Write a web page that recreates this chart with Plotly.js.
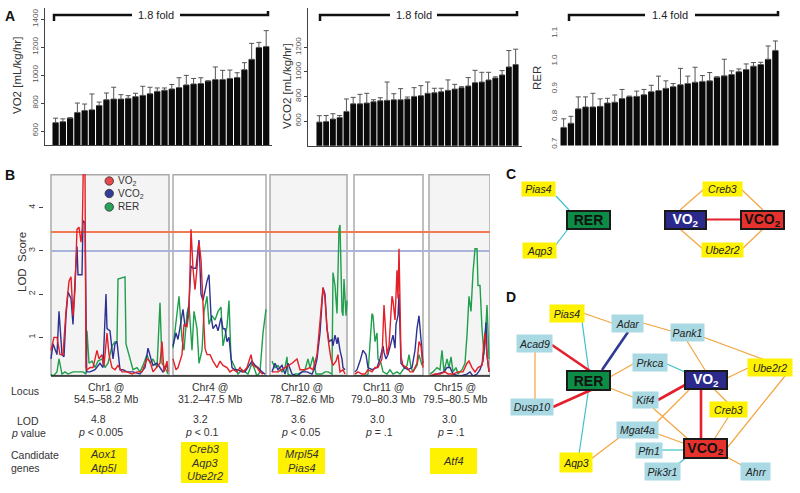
<!DOCTYPE html>
<html><head><meta charset="utf-8">
<script src="https://cdn.plot.ly/plotly-3.0.1.min.js"></script>
<style>html,body{margin:0;padding:0;background:#fff}#chart{width:800px;height:493px}</style>
</head><body><div id="chart"></div>
<script>
// ---------------- DATA ----------------
// Panel A: per-strain means (sorted) and mean+SD tops
const vo2Vals  = [660,667,692,733,747,752,783,824,829,829,834,846,855,867,884,892,901,911,930,937,940,957,969,969,976,983,1039,1113,1198,1205];
const vo2Upper = [692,687,696,800,793,865,807,872,913,860,853,870,920,913,908,908,933,981,998,976,981,960,1058,1034,1036,1017,1089,1227,1234,1318];
const vco2Vals  = [592,597,617,630,679,741,741,747,758,766,769,774,774,780,801,807,826,831,839,850,861,872,886,913,918,935,951,976,1041,1060];
const vco2Upper = [644,646,660,646,780,793,818,826,774,790,918,823,864,796,872,888,918,867,867,935,899,880,954,1013,997,997,960,1011,1174,1185];
const rerVals  = [0.761,0.776,0.828,0.835,0.835,0.837,0.849,0.852,0.865,0.872,0.873,0.879,0.890,0.894,0.902,0.908,0.915,0.919,0.924,0.927,0.929,0.942,0.947,0.952,0.962,0.970,0.982,0.988,1.007,1.039];
const rerUpper = [0.792,0.801,0.871,0.871,0.884,0.864,0.866,0.878,0.898,0.874,0.892,0.898,0.913,0.946,0.929,0.919,0.974,0.946,0.978,0.948,0.959,0.944,1.007,0.965,0.972,0.990,0.995,0.996,1.055,1.073];
const foldLabels = ['1.8 fold','1.8 fold','1.4 fold'];

// Panel B: LOD profiles (genome position in plot units, LOD)
const chr1VO2pos = [0,3,6,9,12,15,18,20,22,24,26,28,30,31.3,32.3,34,35,36,39,42,46,48,51,53,56,58,61,64,67,71,76,81,86,91,96,99,102,106,109,111,113,116,117];
const chr1VO2lod = [0.7,1.0,1.0,0.6,0.6,1.6,2.3,2.4,1.5,2.1,3.5,3.55,3.2,3.55,4.9,4.9,0.3,0.25,0.3,0.3,0.7,0.5,0.6,0.35,1.1,0.6,0.3,0.25,0.35,0.2,0.2,0.15,0.2,0.2,0.5,0.45,0.2,0.3,0.4,0.9,0.2,0.45,0.2];
const chr1VCO2pos = [0,2,6,8,11,13,15,17,20,22,24,26,27,31,32,34,35.7,39,44,49,52,55,56,59,62,64,66,69,72,76,82,89,94,97,100,102,106,109,112,116];
const chr1VCO2lod = [0.5,0.85,0.6,1.6,0.6,0.55,1.5,2.05,1.9,1.3,2.3,3.1,2.45,2.45,3.7,3.65,0.2,0.2,0.25,0.4,0.3,2.0,1.2,1.15,0.5,0.85,0.9,0.25,0.25,0.2,0.2,0.15,0.3,0.75,0.5,0.35,0.4,0.3,0.2,0.35];
const chr1RERpos = [0,2,6,8,11,14,17,22,27,32,35,36,38,41,44,47,51,54,57,61,64,66,67,74,75,79,82,86,89,92,96,99,102,106,109,111,114,117];
const chr1RERlod = [0.15,0.1,0.2,0.5,0.15,0.2,0.15,0.2,0.2,0.2,0.15,1.15,0.4,0.45,0.3,0.45,0.5,0.3,0.4,0.8,0.9,0.9,2.35,2.4,0.85,0.5,0.25,0.3,0.2,0.35,0.6,0.4,0.5,0.3,1.8,0.4,0.3,0.15];

const chr4VO2pos = [122,125,127,131,133,136,138,140,142,144,146,148,150,152,154,156,159,162,166,169,172,176,179,182,186,189,192,196,200,202,206,209,212];
const chr4VO2lod = [0.5,0.25,0.3,0.6,1.3,1.25,1.6,3.5,2.6,2.1,2.6,3.2,2.8,1.9,0.75,0.6,0.6,0.45,0.3,0.45,0.35,0.3,0.2,0.25,0.2,0.3,0.2,0.3,0.6,0.35,0.3,0.2,0.15];
const chr4VCO2pos = [122,125,127,130,132,134,136,138,140,142,145,148,150,152,154,156,158,160,162,165,167,170,172,174,176,178,181,184,187,191,194,197,201,204,207,211,214];
const chr4VCO2lod = [0.8,1.1,0.95,1.35,1.65,1.25,1.3,1.8,2.65,2.6,2.6,3.25,2.0,1.85,2.1,2.3,2.45,1.5,1.2,1.3,1.15,1.45,1.2,1.2,0.9,1.0,0.3,0.25,0.25,0.2,0.2,0.3,0.45,0.35,0.3,0.2,0.15];
const chr4RERpos = [122,124,126,128,131,133,136,138,141,143,146,148,151,153,156,158,161,164,167,170,172,176,178,180,184,187,191,194,197,201,203,206,209,212,215];
const chr4RERlod = [0.75,1.2,1.5,1.95,0.95,0.7,1.55,1.75,0.7,1.6,1.2,0.4,0.7,1.6,1.95,1.3,1.5,1.4,1.6,1.7,0.8,1.25,1.85,0.5,0.3,0.15,0.25,0.2,0.15,0.4,0.3,0.1,0.2,1.1,1.65];

const chr10VO2pos = [221,227,234,241,246,249,254,259,262,266,268,271,272,274,276,278,280,282,285,287,289,292,294];
const chr10VO2lod = [0.2,0.2,0.3,0.4,0.5,0.25,0.25,0.3,0.25,0.6,1.1,1.8,2.15,1.9,1.2,0.8,0.5,0.35,0.45,0.6,0.2,0.25,0.15];
const chr10VCO2pos = [221,224,227,231,234,237,241,246,251,256,261,264,266,269,271,272,274,276,278,281,282,284,286,287,289,291,292,294];
const chr10VCO2lod = [0.2,0.4,0.25,0.35,0.15,0.4,0.15,0.1,0.2,0.2,0.15,0.3,0.5,1.1,1.8,2.15,2.0,1.2,0.9,0.95,0.8,1.05,0.85,1.0,0.7,0.5,0.3,0.25];
const chr10RERpos = [221,224,227,231,234,236,237,241,244,247,251,254,257,259,262,265,267,271,274,277,281,282,284,286,288,289,291,292,293,295,296];
const chr10RERlod = [0.45,0.3,0.35,0.2,0.3,0.55,0.15,0.1,0.15,0.15,0.2,0.25,0.5,0.3,0.55,0.15,0.15,0.15,0.2,0.2,0.15,2.5,2.2,1.55,3.5,3.6,1.6,1.5,2.35,1.5,1.85];

const chr11VO2pos = [304,307,311,314,317,321,324,327,331,333,336,338,341,342,344,346,347,348,350,352,356,359,362,366,368,370,372];
const chr11VO2lod = [0.15,0.2,0.15,0.15,0.25,0.2,0.3,0.3,0.5,1.75,0.6,0.8,1.95,1.85,1.4,2.55,1.9,3.05,0.55,0.35,0.3,0.2,0.2,0.4,0.9,0.8,0.3];
const chr11VCO2pos = [304,306,309,312,315,317,321,326,329,332,333,335,337,340,342,344,345,347,348,350,353,357,361,364,366,368,370,372];
const chr11VCO2lod = [0.2,0.25,0.45,0.7,0.6,0.3,0.25,0.3,0.5,0.8,0.65,0.5,0.6,0.9,1.05,0.75,1.3,1.5,2.0,0.4,0.3,0.25,0.3,0.7,1.2,1.5,1.0,0.4];
const chr11RERpos = [304,309,314,317,321,322,324,326,327,330,332,336,339,342,346,349,352,356,358,360,362,366,368,371];
const chr11RERlod = [0.1,0.1,0.1,0.15,1.55,1.5,0.9,1.1,0.5,0.4,0.2,0.15,0.25,0.15,0.2,0.15,0.25,0.35,0.6,0.3,0.2,0.35,0.6,0.35];

const chr15VO2pos = [379,384,389,394,397,402,407,412,416,418,421,424,427,431,433,434,436,438];
const chr15VO2lod = [0.1,0.15,0.15,0.2,0.15,0.15,0.2,0.2,0.4,0.45,0.3,0.2,0.3,0.35,0.9,1.1,0.6,0.2];
const chr15VCO2pos = [379,386,393,396,399,402,409,416,419,422,426,429,432,435,436,438];
const chr15VCO2lod = [0.1,0.15,0.2,0.3,0.3,0.15,0.1,0.15,0.2,0.1,0.15,0.25,0.45,1.35,0.6,0.2];
const chr15RERpos = [379,382,386,389,391,393,396,398,400,402,405,407,411,414,416,418,420,422,424,426,427,429,431,433,435,436,438];
const chr15RERlod = [0.15,0.2,0.3,0.25,0.7,0.2,0.5,0.3,0.55,0.2,0.3,0.15,0.25,0.4,1.05,1.95,1.6,2.5,3.05,3.05,2.2,2.2,1.2,0.6,1.3,1.75,0.5];

const chrNames   = ['Chr1','Chr4','Chr10','Chr11','Chr15'];
const chrSpans   = [[0,118],[122,215],[219,296],[303,372],[378,439]];
const lodThresholds = [3.44, 3.0];
const locusRanges = ['54.5–58.2 Mb','31.2–47.5 Mb','78.7–82.6 Mb','79.0–80.3 Mb','79.5–80.5 Mb'];
const peakLOD    = ['4.8','3.2','3.6','3.0','3.0'];
const pValues    = ['<i>p</i> < 0.005','<i>p</i> < 0.1','<i>p</i> < 0.05','<i>p</i> = .1','<i>p</i> = .1'];
const candidates = [['Aox1','Atp5l'],['Creb3','Aqp3','Ube2r2'],['Mrpl54','Pias4'],[],['Atf4']];

// Panels C & D: networks
const netCEdges = [['Pias4','RER','cyan'],['Aqp3','RER','cyan'],['VO2','VCO2','red'],['VO2','Creb3','orange'],['Creb3','VCO2','orange'],['VO2','Ube2r2','orange'],['Ube2r2','VCO2','orange']];
const netDEdges = [['Pias4','Adar','orange'],['Adar','Pank1','orange'],['Pank1','Ube2r2','orange'],['Pank1','VO2','orange'],['Pias4','RER','cyan'],['RER','Aqp3','cyan'],['Adar','RER','navy'],['Acad9','RER','red'],['Dusp10','RER','red'],['Acad9','Dusp10','orange'],['RER','Prkca','orange'],['RER','Kif4','orange'],['Prkca','VO2','cyan'],['Kif4','VO2','red'],['VO2','VCO2','red'],['VO2','Ube2r2','orange'],['VO2','Creb3','orange'],['Creb3','VCO2','orange'],['Ube2r2','VCO2','orange'],['VO2','Mgat4a','orange'],['Kif4','VCO2','orange'],['Mgat4a','VCO2','orange'],['Mgat4a','Aqp3','orange'],['Pfn1','VCO2','cyan'],['Pik3r1','VCO2','cyan'],['Ahrr','VCO2','orange']];
const candidateGenes = ['Pias4','Aqp3','Creb3','Ube2r2'];

// ---------------- LAYOUT HELPERS ----------------
const W=800,H=493;
const X=p=>p/W, Y=p=>1-p/H;
const FONT='Liberation Sans, Arial, Helvetica, sans-serif';
const shapes=[], annotations=[];
function ann(x,y,text,o={}){annotations.push(Object.assign({xref:'paper',yref:'paper',x:X(x),y:Y(y),text,showarrow:false,xanchor:'center',yanchor:'middle',font:{family:FONT,size:10.5,color:'#333'}},o));}
function seg(x0,y0,x1,y1,color,width){shapes.push({type:'line',xref:'paper',yref:'paper',x0:X(x0),y0:Y(y0),x1:X(x1),y1:Y(y1),line:{color,width},layer:'above'});}

// ---------------- PANEL A ----------------
const traces=[];
function barTrace(vals,upper,ax){
  return {type:'bar',x:vals.map((_,i)=>i+1),y:vals,xaxis:'x'+ax,yaxis:'y'+ax,
    marker:{color:'#0a0a0a',line:{width:0}},
    error_y:{type:'data',symmetric:false,array:upper.map((u,i)=>Math.max(0,u-vals[i])),arrayminus:vals.map(()=>0),color:'#555',thickness:1,width:2.5},
    hoverinfo:'skip',showlegend:false};
}
traces.push(barTrace(vo2Vals,vo2Upper,''));
traces.push(barTrace(vco2Vals,vco2Upper,'2'));
traces.push(barTrace(rerVals,rerUpper,'3'));

function bracket(x1,x2,gl,gr,label){
  const y=15;
  shapes.push({type:'path',xref:'paper',yref:'paper',path:`M ${X(x1)},${Y(y+6)} L ${X(x1)},${Y(y)} L ${X(gl)},${Y(y)}`,line:{color:'#111',width:2.5},layer:'above'});
  shapes.push({type:'path',xref:'paper',yref:'paper',path:`M ${X(gr)},${Y(y)} L ${X(x2)},${Y(y)} L ${X(x2)},${Y(y-4)}`,line:{color:'#111',width:2.5},layer:'above'});
  ann((gl+gr)/2,y,label,{font:{family:FONT,size:11,color:'#222'}});
}
bracket(54,268,132,180,foldLabels[0]);
bracket(320,517,390,437,foldLabels[1]);
bracket(569,778,645,695,foldLabels[2]);

ann(17,76,'VO2 [mL/kg/hr]',{textangle:-90,font:{family:FONT,size:11.5,color:'#333'}});
ann(287,86,'VCO2 [mL/kg/hr]',{textangle:-90,font:{family:FONT,size:11.5,color:'#333'}});
ann(537,78,'RER',{textangle:-90,font:{family:FONT,size:11.5,color:'#333'}});

// ---------------- PANEL B ----------------
function joinChr(list){const xs=[],ys=[];list.forEach(([p,l],i)=>{if(i){xs.push(null);ys.push(null);}xs.push(...p);ys.push(...l);});return [xs,ys];}
const rerAll = joinChr([[chr1RERpos,chr1RERlod],[chr4RERpos,chr4RERlod],[chr10RERpos,chr10RERlod],[chr11RERpos,chr11RERlod],[chr15RERpos,chr15RERlod]]);
const vco2All = joinChr([[chr1VCO2pos,chr1VCO2lod],[chr4VCO2pos,chr4VCO2lod],[chr10VCO2pos,chr10VCO2lod],[chr11VCO2pos,chr11VCO2lod],[chr15VCO2pos,chr15VCO2lod]]);
const vo2All = joinChr([[chr1VO2pos,chr1VO2lod],[chr4VO2pos,chr4VO2lod],[chr10VO2pos,chr10VO2lod],[chr11VO2pos,chr11VO2lod],[chr15VO2pos,chr15VO2lod]]);
const cRER='#1f9e4c', cVCO2='#2e3192', cVO2='#e41f26';
traces.push({type:'scatter',mode:'lines',x:rerAll[0],y:rerAll[1],xaxis:'x4',yaxis:'y4',line:{color:cRER,width:1.4},hoverinfo:'skip',showlegend:false});
traces.push({type:'scatter',mode:'lines',x:vco2All[0],y:vco2All[1],xaxis:'x4',yaxis:'y4',line:{color:cVCO2,width:1.4},hoverinfo:'skip',showlegend:false});
traces.push({type:'scatter',mode:'lines',x:vo2All[0],y:vo2All[1],xaxis:'x4',yaxis:'y4',line:{color:cVO2,width:1.4},hoverinfo:'skip',showlegend:false});

chrSpans.forEach((s,i)=>{
  shapes.push({type:'rect',xref:'x4',yref:'y4',x0:s[0],x1:s[1],y0:0.115,y1:4.765,fillcolor:(i%2===0)?'#f4f4f4':'#ffffff',line:{color:'#aaaaaa',width:1.5},layer:'below'});
});
shapes.push({type:'line',xref:'x4',yref:'y4',x0:0,x1:439,y0:lodThresholds[0],y1:lodThresholds[0],line:{color:'#f07b52',width:2},layer:'below'});
shapes.push({type:'line',xref:'x4',yref:'y4',x0:0,x1:439,y0:lodThresholds[1],y1:lodThresholds[1],line:{color:'#aab3da',width:2},layer:'below'});
shapes.push({type:'line',xref:'x4',yref:'paper',x0:0,x1:439,y0:Y(376),y1:Y(376),line:{color:'#222',width:1.5},layer:'above'});
ann(22,262,'LOD  Score',{textangle:-90,font:{family:FONT,size:11.5,color:'#333'}});

// legend
[['VO<sub>2</sub>','#e8474c',181],['VCO<sub>2</sub>','#353c98',193.5],['RER','#27a35a',207]].forEach(([t,c,y])=>{
  shapes.push({type:'circle',xref:'paper',yref:'paper',x0:X(105),x1:X(113.5),y0:Y(y+4.2),y1:Y(y-4.2),fillcolor:c,line:{color:'#333',width:0.8},layer:'above'});
  ann(116,y,t,{xanchor:'left',font:{family:FONT,size:10,color:'#333'}});
});

// table
const colX=[106,210,302,383,455];
ann(25,391,'Locus');
ann(28,421,'LOD'); ann(28,433,'<i>p</i> value');
ann(9,455,'Candidate',{xanchor:'left'}); ann(9,468,'genes',{xanchor:'left'});
const lodX=[97,199,297,376,448];
chrNames.forEach((c,i)=>{
  ann(colX[i],387,c+' @'); ann(colX[i],399,locusRanges[i]);
  ann(lodX[i]+1,419,peakLOD[i]); ann(lodX[i]+3,432,pValues[i]);
});
const candBoxes=[[80,127,448,474],[181,228,442,483],[278,325,448,474],null,[430,477,448,474]];
candidates.forEach((g,i)=>{
  const b=candBoxes[i]; if(!b||!g.length) return;
  shapes.push({type:'rect',xref:'paper',yref:'paper',x0:X(b[0]),x1:X(b[1]),y0:Y(b[3]),y1:Y(b[2]),fillcolor:'#fff200',line:{width:0},layer:'above'});
  const cy=(b[2]+b[3])/2, step=13.5;
  g.forEach((name,k)=>ann((b[0]+b[1])/2,cy+(k-(g.length-1)/2)*step,'<i>'+name+'</i>',{font:{family:FONT,size:11,color:'#333'}}));
});

// ---------------- PANELS C & D ----------------
const edgeColors={orange:'#f2a541',cyan:'#3fc1c9',red:'#e3202b',navy:'#2e3a93'};
const edgeWidths={orange:1.2,cyan:1.2,red:2.6,navy:2.6};
const geomC=[[556,196,569,210],[555,246,568,229],[706,219.5,741,219.5],[680,210,704,189],[741,189,763,210],[680,229,704,250],[741,250,763,229]];
const geomD=[[583,313,612,323],[643,323,671,331],[703,337,765,360],[687,341,705,370],[582,321,590,380],[590,380,579,454],[628,332,602,370],[552,345,590,371],[553,407,591,390],[535,352,535,399],[610,377,633,364],[610,388,635,398],[667,364,685,372],[658,400,685,385],[701,389,701,438],[727,378,748,368],[713,388,728,403],[729,416,715,438],[785,376,727,448],[689,390,656,423],[653,408,688,439],[658,434,683,443],[620,437,591,459],[662,450,683,450],[678,464,687,457],[727,457,743,466]];
netCEdges.forEach((e,i)=>{const g=geomC[i];seg(g[0],g[1],g[2],g[3],edgeColors[e[2]],e[2]==='red'?2.2:1.2);});
netDEdges.forEach((e,i)=>{const g=geomD[i];seg(g[0],g[1],g[2],g[3],edgeColors[e[2]],edgeWidths[e[2]]);});

const phenoStyle={RER:['#0c8c45','#111','RER'],VO2:['#2b2a8c','#ffffff','VO<sub>2</sub>'],VCO2:['#e7312d','#111','VCO<sub>2</sub>']};
function node(name,cx,cy,w,h){
  if(phenoStyle[name]){
    const [bg,fc,label]=phenoStyle[name];
    ann(cx,cy,'<b>'+label+'</b>',{width:w-3,height:h-3,bgcolor:bg,bordercolor:'#1a1a1a',borderwidth:2,borderpad:0,valign:'middle',font:{family:FONT,size:14,color:fc}});
  } else {
    const bg=candidateGenes.includes(name)?'#fff200':'#a9d9e3';
    ann(cx,cy,'<i>'+name+'</i>',{width:w,height:h,bgcolor:bg,borderpad:0,valign:'middle',font:{family:FONT,size:10.5,color:'#222'}});
  }
}
// C
node('Pias4',538.5,188.5,33,14); node('Aqp3',539,250,33,15);
node('RER',588,219.5,44,19); node('VO2',685.5,219.5,42,19); node('VCO2',762,219.5,44,19);
node('Creb3',722,189,39,14); node('Ube2r2',722.5,250,41,14);
// D
node('Pias4',566.5,313.5,34,17); node('Adar',627.5,323.5,31,17); node('Pank1',687.5,332.5,33,17);
node('Acad9',534.5,343.5,35,17); node('Dusp10',532,407,42,16); node('Prkca',650,362.5,34,17);
node('Ube2r2',770,367.5,44,17); node('Kif4',645.5,400,25,16); node('Creb3',728.5,409.5,37,15);
node('Mgat4a',637.5,430,41,16); node('Pfn1',649,450.5,26,15); node('Pik3r1',662.5,471.5,35,17);
node('Ahrr',755.5,471.5,29,17); node('Aqp3',576,462.5,32,19);
node('RER',588,380,44,20); node('VO2',705.5,379.5,43,19); node('VCO2',705,448,44,20);

// panel letters
[['A',10,16],['B',10,175],['C',511,174],['D',511,297]].forEach(([t,x,y])=>ann(x,y,'<b>'+t+'</b>',{font:{family:FONT,size:14,color:'#111'}}));

// ---------------- AXES ----------------
const base={showgrid:false,zeroline:false,fixedrange:true};
const yA={ticks:'outside',ticklen:3,tickcolor:'#444',tickangle:-90,tickfont:{family:FONT,size:8,color:'#555'},showline:true,linecolor:'#444',linewidth:1};
const layout={
  width:W,height:H,margin:{l:0,r:0,t:0,b:0},paper_bgcolor:'#fff',plot_bgcolor:'rgba(0,0,0,0)',
  font:{family:FONT},showlegend:false,bargap:0.14,
  xaxis:Object.assign({},base,{domain:[X(45),X(272)],range:[-0.46,30.8],showticklabels:false,ticks:'',showline:true,linecolor:'#444',linewidth:1,anchor:'y'}),
  yaxis:Object.assign({},base,yA,{domain:[Y(145),Y(8)],range:[500,1480],tickvals:[600,800,1000,1200,1400],anchor:'x'}),
  xaxis2:Object.assign({},base,{domain:[X(308),X(522)],range:[-0.68,30.94],showticklabels:false,ticks:'',showline:true,linecolor:'#444',linewidth:1,anchor:'y2'}),
  yaxis2:Object.assign({},base,yA,{domain:[Y(145.7),Y(8)],range:[400,1520],tickvals:[600,800,1000,1200],anchor:'x2'}),
  xaxis3:Object.assign({},base,{domain:[X(560),X(781)],range:[0.5,30.77],showticklabels:false,ticks:'',showline:false,anchor:'y3'}),
  yaxis3:Object.assign({},base,{domain:[Y(145.5),Y(8)],range:[0.6956,1.192],tickvals:[0.7,0.8,0.9,1.0,1.1],ticktext:['0.7','0.8','0.9','1.0','1.1'],ticks:'',showline:false,tickangle:-90,tickfont:{family:FONT,size:8,color:'#555'},anchor:'x3'}),
  xaxis4:Object.assign({},base,{domain:[X(44),X(490)],range:[-7,439],showticklabels:false,ticks:'',showline:false,anchor:'y4'}),
  yaxis4:Object.assign({},base,{domain:[Y(376),Y(174)],range:[0.105,4.78],tickvals:[1,2,3,4],ticks:'outside',ticklen:4,tickcolor:'#444',tickangle:-90,tickfont:{family:FONT,size:9,color:'#444'},showline:false,anchor:'x4'}),
  shapes,annotations
};
Plotly.newPlot('chart',traces,layout,{displayModeBar:false,staticPlot:true});
</script></body></html>
